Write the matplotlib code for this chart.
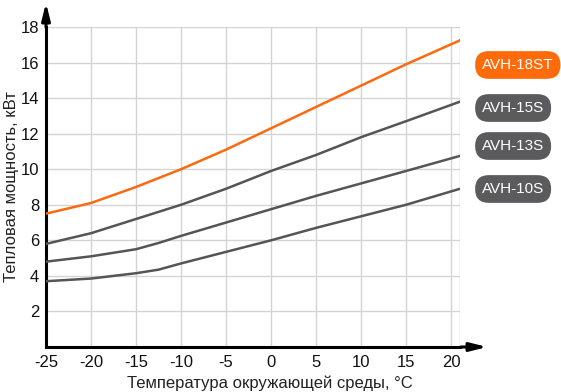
import matplotlib.pyplot as plt

plt.rcParams['font.family'] = ['Liberation Sans', 'DejaVu Sans']
plt.rcParams['axes.unicode_minus'] = False

temps = [-25, -20, -15, -12.5, -10, -5, 0, 5, 10, 15, 21]
avh_18st = [7.5, 8.1, 9.0, 9.5, 10.0, 11.1, 12.3, 13.5, 14.7, 15.9, 17.25]
avh_15s = [5.8, 6.4, 7.2, 7.6, 8.0, 8.9, 9.9, 10.8, 11.8, 12.7, 13.8]
avh_13s = [4.8, 5.1, 5.5, 5.85, 6.25, 7.0, 7.75, 8.5, 9.2, 9.9, 10.75]
avh_10s = [3.7, 3.85, 4.15, 4.35, 4.7, 5.35, 6.0, 6.7, 7.35, 8.0, 8.9]

models = ["AVH-18ST", "AVH-15S", "AVH-13S", "AVH-10S"]
series = [avh_18st, avh_15s, avh_13s, avh_10s]
colors = ["#fb6a10", "#555555", "#555555", "#555555"]
badge_colors = ["#ff6a0a", "#5b5a5c", "#5b5a5c", "#5b5a5c"]
badge_y = [65, 108, 146, 189]  # pixel rows of the labels

x_ticks = [-25, -20, -15, -10, -5, 0, 5, 10, 15, 20]
y_ticks = [2, 4, 6, 8, 10, 12, 14, 16, 18]

W, H = 561, 392
fig = plt.figure(figsize=(W / 100, H / 100), dpi=100)
ax = fig.add_axes([46 / W, 1 - 347 / H, (460 - 46) / W, (347 - 27) / H])

ax.set_xlim(-25, 21)
ax.set_ylim(0, 18)

grid_c = "#d4d4d4"
for x in x_ticks[1:] + [21]:
    ax.axvline(x, color=grid_c, lw=1, zorder=0)
for y in y_ticks:
    ax.axhline(y, color=grid_c, lw=1, zorder=0)

for vals, c in zip(series, colors):
    ax.plot(temps, vals, color=c, lw=1.8, zorder=3)

ax.set_xticks(x_ticks)
ax.set_yticks(y_ticks)
ax.tick_params(length=0, labelsize=12, colors="#111111")
ax.tick_params(axis="x", pad=6)
ax.tick_params(axis="y", pad=5)
for s in ["top", "right"]:
    ax.spines[s].set_visible(False)
for s in ["left", "bottom"]:
    ax.spines[s].set_linewidth(2.2)
    ax.spines[s].set_color("black")

# arrows on axes
ax.annotate("", xy=(490 / W, 1 - 347 / H), xytext=(458 / W, 1 - 347 / H),
            xycoords="figure fraction",
            arrowprops=dict(arrowstyle="-|>,head_length=1.0,head_width=0.25",
                            color="black", lw=2.2))
ax.annotate("", xy=(46 / W, 1 - 0 / H), xytext=(46 / W, 1 - 30 / H),
            xycoords="figure fraction",
            arrowprops=dict(arrowstyle="-|>,head_length=1.0,head_width=0.25",
                            color="black", lw=2.2))

fig.text(270 / W, 1 - 383 / H, "Температура окружающей среды, °C",
         ha="center", va="center", fontsize=12, color="#222222")
fig.text(12 / W, 1 - 187 / H, "Тепловая мощность, кВт", rotation=90,
         ha="center", va="center", fontsize=12, color="#222222")

for name, bc, py in zip(models, badge_colors, badge_y):
    fig.text(482 / W, 1 - py / H, name, ha="left", va="center", fontsize=11,
             color="white",
             bbox=dict(boxstyle="round,pad=0.45,rounding_size=0.9",
                       fc=bc, ec="none"))

fig.savefig("out.png", dpi=100)
